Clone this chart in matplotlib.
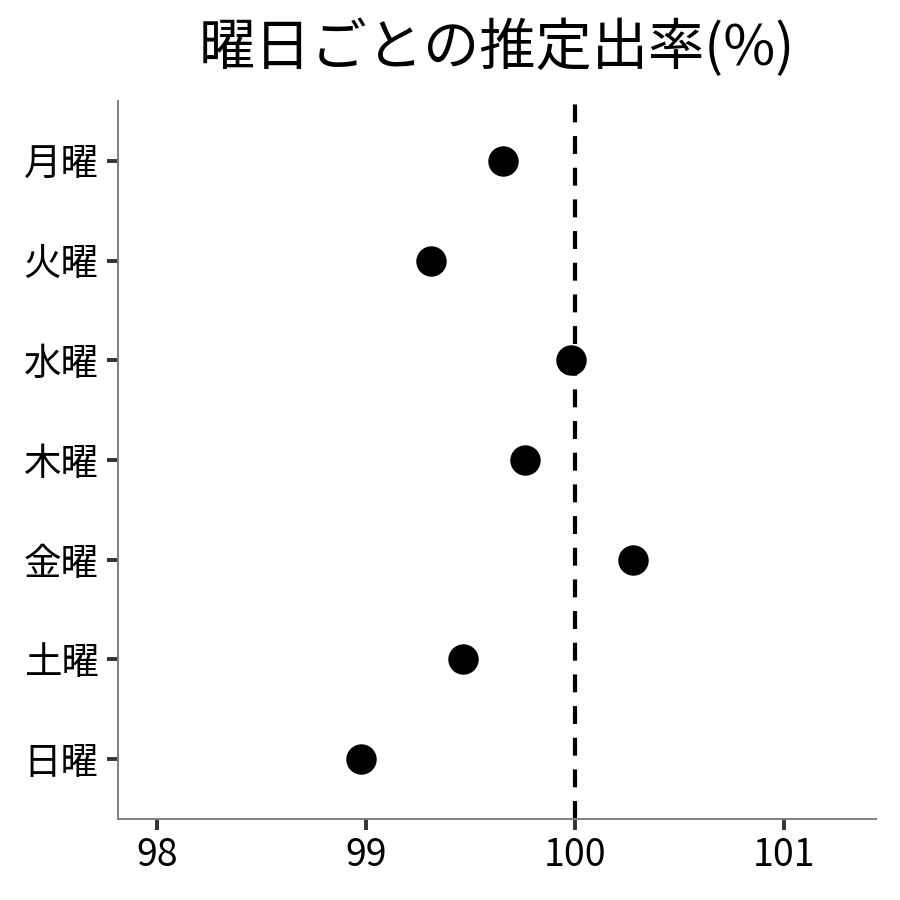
import matplotlib
matplotlib.use("Agg")
import matplotlib.pyplot as plt

plt.rcParams['font.family'] = ['Noto Sans CJK JP', 'DejaVu Sans']

days = ["月曜", "火曜", "水曜", "木曜", "金曜", "土曜", "日曜"]
rates = [99.655, 99.311, 99.981, 99.761, 100.278, 99.464, 98.976]
xticks = [98, 99, 100, 101]
ref_line = 100

fig = plt.figure(figsize=(9, 9), dpi=100)
ax = fig.add_axes([118/900, 1-819/900, (876-118)/900, (819-101)/900])

ypos = list(range(len(days), 0, -1))
ax.axvline(ref_line, color="black", linestyle=(0, (4.3, 3.3)), linewidth=3.0, zorder=2)
ax.scatter(rates, ypos, s=480, color="black", zorder=3, linewidths=0)

ax.set_xlim(97.813, 101.44)
ax.set_ylim(0.4, 7.6)
ax.set_yticks(ypos)
ax.set_yticklabels(days)
ax.set_xticks(xticks)
ax.set_xticklabels([str(x) for x in xticks])

for s in ["top", "right"]:
    ax.spines[s].set_visible(False)
for s in ["left", "bottom"]:
    ax.spines[s].set_color("#808080")
    ax.spines[s].set_linewidth(1.4)

ax.tick_params(axis="both", length=8, width=2.8, color="#333333", labelsize=27, labelcolor="black")
ax.tick_params(axis="y", pad=6)
ax.tick_params(axis="x", pad=4)

ax.set_title("曜日ごとの推定出率(%)", fontsize=40.5, pad=26, color="black")

fig.savefig("out.png", dpi=100, facecolor="white")
